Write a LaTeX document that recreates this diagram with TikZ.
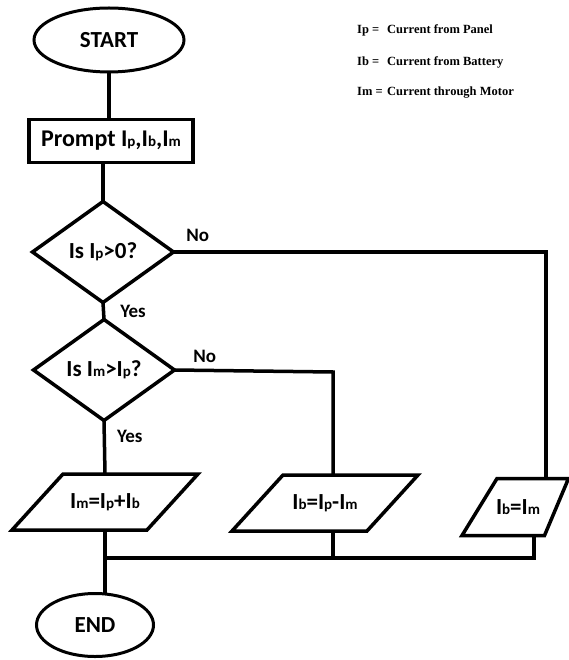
\documentclass[tikz,border=0pt]{standalone}
\usepackage{fontspec}
\setmainfont{Carlito}
\newfontfamily\legendfont{Liberation Serif}
\usetikzlibrary{positioning,shapes.geometric,calc}

% small letter set on the baseline (I_p, I_b, I_m)
\newcommand{\lo}[1]{{\fontsize{15}{15}\selectfont #1}}
% slanted input/output box round a named node: name, left slant, right slant
\newcommand{\iobox}[3]{%
  \draw[line] ($(#1.south west)+(-#2,0)$) -- ($(#1.south east)+(-#3,0)$)
    -- ($(#1.north east)+(#3,0)$) -- ($(#1.north west)+(#2,0)$) -- cycle;}

\begin{document}
\begin{tikzpicture}[
  x=1pt, y=-1pt,
  font=\fontsize{23}{26}\selectfont\bfseries,
  term/.style={
    ellipse, draw=black, line width=3pt,
    inner sep=0pt, outer sep=0pt
  },
  proc/.style={
    rectangle, draw=black, line width=3.5pt,
    minimum width=164pt, minimum height=43pt,
    inner sep=0pt, outer sep=0pt
  },
  dec/.style={
    diamond, aspect=1.37, draw=black, line width=3.5pt,
    minimum width=141pt, minimum height=101pt,
    inner sep=0pt, outer sep=0pt
  },
  io/.style={
    rectangle, minimum height=56pt,
    inner sep=0pt, outer sep=0pt
  },
  line/.style={draw=black, line width=3.5pt},
  lbl/.style={font=\fontsize{19}{21}\selectfont\bfseries, inner sep=0pt},
  key/.style={font=\legendfont\fontsize{12.5}{14}\selectfont\bfseries,
    anchor=west, inner sep=0pt}
]
\useasboundingbox (0,0) rectangle (569,660);

% ─── Legend ─────────────────────────────────────────────────
\node[key] (kp) at (357,30) {\makebox[30pt][l]{Ip =}Current from Panel};
\node[key] (kb) at (357,62) {\makebox[30pt][l]{Ib =}Current from Battery};
\node[key] (km) at (357,93) {\makebox[30pt][l]{Im =}Current through Motor};

% ─── Main column ────────────────────────────────────────────
\node[term, minimum width=150pt, minimum height=64pt] (start) at (109,40) {START};
\node[proc, font=\fontsize{24}{26}\selectfont\bfseries] (prompt) at (111,141)
  {Prompt I\lo{p},I\lo{b},I\lo{m}};
\node[dec] (d1) at (103,252) {Is I\lo{p}>0?};
\node[dec] (d2) at (104,370) {Is I\lo{m}>I\lo{p}?};
\node[io, minimum width=135pt] (p1) at (105,502) {I\lo{m}=I\lo{p}+I\lo{b}};
\node[term, minimum width=117pt, minimum height=63pt] (end) at (95,625) {END};

% ─── Branches ───────────────────────────────────────────────
\node[io, minimum width=135pt] (p2) at (325,503) {I\lo{b}=I\lo{p}-I\lo{m}};
\node[io, minimum width=77pt, minimum height=57pt] (p3) at (518,507) {I\lo{b}=I\lo{m}};

\iobox{p1}{25.5}{25.5}
\iobox{p2}{25.5}{25.5}
\iobox{p3}{17.5}{12}

\coordinate (rgt) at (546,252);
\coordinate (mid) at (333,372);
\coordinate (bus) at (105,558);
\coordinate (busR) at (534,558);

% ─── Connectors ─────────────────────────────────────────────
\draw[line] (start.south) -- (start.south |- prompt.north);
\draw[line] (prompt.south -| d1.north) -- (d1.north);
\draw[line] (d1.south) -- node[lbl, anchor=west, xshift=15pt]{Yes} (d2.north);
\draw[line] (d1.east) -- node[lbl, pos=0, anchor=west, xshift=11pt, yshift=17pt]{No}
  (rgt) -- (rgt |- p3.north);
\draw[line] (d2.east) -- node[lbl, pos=0, anchor=west, xshift=17pt, yshift=14pt]{No}
  (mid) -- (mid |- p2.north);
\draw[line] (d2.south) -- node[lbl, pos=0.3, anchor=west, xshift=11pt]{Yes} (p1.north);

% ─── Merge to END ───────────────────────────────────────────
\draw[line] (p1.south) -- (p1.south |- end.north);
\draw[line] (bus) -- (busR) -- (busR |- p3.south);
\draw[line] (mid |- p2.south) -- (mid |- bus);

\end{tikzpicture}
\end{document}
